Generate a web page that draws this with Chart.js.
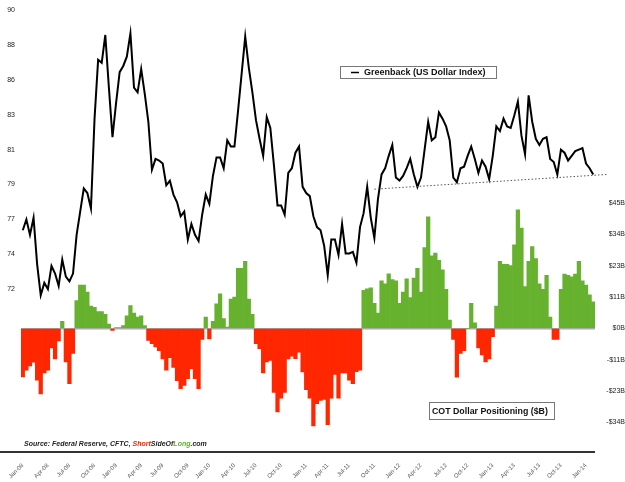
<!DOCTYPE html>
<html>
<head>
<meta charset="utf-8">
<script src="https://cdn.jsdelivr.net/npm/chart.js@4.4.0/dist/chart.umd.min.js"></script>
<style>
  html, body { margin: 0; padding: 0; background: #fff; }
</style>
</head>
<body>
<canvas id="chart" width="625" height="482"></canvas>
<script>
// Greenback (US Dollar Index), sampled every two weeks from early Jan 2008
const dollarIndex = [
  75.8, 76.5, 75.5, 76.6, 73.6, 71.6, 72.4, 72.0, 73.5, 73.0,
  72.2, 73.9, 72.8, 72.5, 73.0, 75.5, 77.0, 78.5, 78.2, 77.2,
  83.0, 86.8, 86.6, 88.4, 85.0, 81.8, 84.0, 86.0, 86.4, 87.0,
  88.5, 85.0, 84.7, 86.2, 84.6, 82.8, 79.7, 80.4, 80.3, 80.1,
  78.7, 79.0, 78.1, 77.6, 76.7, 77.0, 75.2, 76.2, 75.5, 75.1,
  76.8, 78.1, 77.5, 79.3, 80.5, 80.5, 79.8, 81.6, 81.2, 81.2,
  83.5, 85.9, 88.3, 86.3, 84.7, 82.9, 81.7, 80.6, 83.1, 82.4,
  80.0, 77.4, 77.4, 76.8, 79.5, 79.8, 80.8, 81.2, 78.6, 78.2,
  78.0, 76.7, 76.0, 75.8, 74.8, 72.9, 75.2, 75.2, 74.2, 76.2,
  74.3, 74.3, 74.4, 73.7, 76.0, 76.9, 78.6, 76.6, 75.3, 77.8,
  79.4, 79.8, 80.6, 81.3, 79.2, 79.0, 79.3, 79.8, 80.4, 79.4,
  78.6, 79.2, 81.0, 82.8, 81.6, 81.8, 83.4, 83.0, 82.5, 81.6,
  79.2, 78.9, 79.8, 79.9, 80.6, 81.2, 80.4, 79.5, 80.3, 79.9,
  79.1, 80.6, 82.5, 82.2, 83.0, 82.5, 82.4, 83.2, 84.1, 81.9,
  80.7, 84.5, 82.8, 81.7, 81.3, 81.7, 81.8, 80.4, 80.2, 79.4,
  81.0, 80.8, 80.3, 80.6, 80.9, 81.0, 81.1, 80.1, 79.8, 79.4
];

// COT Dollar Positioning ($B), same dates
const cotPositioning = [
  -17.4, -15, -13.5, -12.1, -18.6, -23.5, -16, -15, -7, -11,
  -4.5, 2.5, -12, -19.8, -9, 10, 15.5, 15.5, 13, 8,
  7.5, 6, 6, 5, 1.5, -0.7, 0.3, 0.3, 1, 4.5,
  8.2, 5.5, 4, 4.5, 1, -4.3, -5.5, -6.7, -8, -11,
  -15, -10.5, -14, -18.8, -21.6, -20.5, -18, -14.5, -18, -21.6,
  -4, 4, -3.8, 2.5, 8.8, 12.4, 3.5, 0.5, 10.5, 11.2,
  21.5, 21.5, 24, 10.5, 5, -5.5, -7.3, -16, -12, -11.5,
  -23, -30, -25, -23, -11, -10, -10.9, -8.5, -15.6, -22,
  -25, -35, -27, -25.8, -25.5, -34.5, -25, -16.5, -25, -16,
  -16, -18.6, -19.8, -15.5, -15, 13.6, 14.2, 14.5, 9, 5.5,
  17, 16, 19.6, 17.5, 17, 9, 13, 17.8, 11, 18,
  21.5, 13, 29, 40, 26, 27, 24.4, 21, 14, 3,
  -4, -17.5, -9, -8, 0, 9, 2, -7, -9.5, -12,
  -11, -3, 8, 24, 23, 23, 22.5, 30, 42.5, 36,
  15, 24, 29.3, 25, 16, 14, 19, 4, -4, -4,
  14, 19.5, 19, 18.5, 19.5, 24, 17, 15.5, 12, 9.5
];

// dotted support line under the 2011-2014 lows (index, value)
const trendIndex = [98, 163];
const trendValues = [78.45, 79.4];

const leftTicks = [72, 74.25, 76.5, 78.75, 81, 83.25, 85.5, 87.75, 90];
const leftTickLabels = ['72', '74', '77', '79', '81', '83', '86', '88', '90'];
const rightTicks = [-33.75, -22.5, -11.25, 0, 11.25, 22.5, 33.75, 45];
const rightTickLabels = ['-$34B', '-$23B', '-$11B', '$0B', '$11B', '$23B', '$34B', '$45B'];
const monthNames = ['Jan', 'Feb', 'Mar', 'Apr', 'May', 'Jun', 'Jul', 'Aug', 'Sep', 'Oct', 'Nov', 'Dec'];

const labels = dollarIndex.map((_, i) => {
  const d = new Date(Date.UTC(2008, 0, 4 + i * 14));
  return d.toISOString().slice(0, 10);
});

const GREEN = '#66b22f';
const RED = '#ff2600';

// trendline, boxes and source line drawn on top
const overlayPlugin = {
  id: 'overlay',
  afterDatasetsDraw(chart) {
    const { ctx, chartArea, scales } = chart;
    ctx.save();

    // dotted support line
    ctx.strokeStyle = '#555';
    ctx.lineWidth = 1;
    ctx.setLineDash([1.5, 2]);
    ctx.beginPath();
    ctx.moveTo(scales.x.getPixelForValue(trendIndex[0]), scales.y.getPixelForValue(trendValues[0]));
    ctx.lineTo(scales.x.getPixelForValue(trendIndex[1]), scales.y.getPixelForValue(trendValues[1]));
    ctx.stroke();
    ctx.setLineDash([]);

    // bottom rule
    ctx.strokeStyle = '#333';
    ctx.lineWidth = 2;
    ctx.beginPath();
    ctx.moveTo(0, chartArea.bottom - 1);
    ctx.lineTo(chartArea.right, chartArea.bottom - 1);
    ctx.stroke();

    // legend box: dollar index
    ctx.fillStyle = '#fff';
    ctx.strokeStyle = '#777';
    ctx.lineWidth = 1;
    ctx.fillRect(340.5, 66.5, 156, 12);
    ctx.strokeRect(340.5, 66.5, 156, 12);
    ctx.strokeStyle = '#000';
    ctx.lineWidth = 1.5;
    ctx.beginPath();
    ctx.moveTo(351, 72.5);
    ctx.lineTo(359, 72.5);
    ctx.stroke();
    ctx.fillStyle = '#111';
    ctx.font = 'bold 9px "Liberation Sans"';
    ctx.textBaseline = 'middle';
    ctx.textAlign = 'left';
    ctx.fillText('Greenback (US Dollar Index)', 364, 73);

    // legend box: COT
    ctx.fillStyle = '#fff';
    ctx.strokeStyle = '#777';
    ctx.lineWidth = 1;
    ctx.fillRect(429.5, 402.5, 125, 17);
    ctx.strokeRect(429.5, 402.5, 125, 17);
    ctx.fillStyle = '#111';
    ctx.font = 'bold 8.8px "Liberation Sans"';
    ctx.fillText('COT Dollar Positioning ($B)', 432, 411.5);

    // source line
    const parts = [
      ['Source: Federal Reserve, CFTC, ', '#222'],
      ['Short', '#ff2200'],
      ['SideOf', '#222'],
      ['Long', '#5fb030'],
      ['.com', '#222']
    ];
    ctx.font = 'italic bold 7px "Liberation Sans"';
    let x = 24;
    parts.forEach(([t, c]) => {
      ctx.fillStyle = c;
      ctx.fillText(t, x, 444.5);
      x += ctx.measureText(t).width;
    });

    ctx.restore();
  }
};

const chart = new Chart(document.getElementById('chart').getContext('2d'), {
  data: {
    labels: labels,
    datasets: [
      {
        type: 'line',
        label: 'Greenback (US Dollar Index)',
        data: dollarIndex,
        yAxisID: 'y',
        borderColor: '#000',
        borderWidth: 2,
        pointRadius: 0,
        tension: 0,
        order: 0
      },
      {
        type: 'bar',
        label: 'COT Dollar Positioning ($B)',
        data: cotPositioning,
        yAxisID: 'y1',
        backgroundColor: c => (c.raw >= 0 ? GREEN : RED),
        barPercentage: 1,
        categoryPercentage: 1,
        borderWidth: 0,
        order: 1
      }
    ]
  },
  options: {
    responsive: false,
    animation: false,
    devicePixelRatio: 1,
    layout: { padding: { top: 10, left: 0, right: 0, bottom: 0 } },
    plugins: {
      legend: { display: false },
      tooltip: { enabled: false }
    },
    scales: {
      x: {
        offset: true,
        grid: { display: false },
        border: { display: false },
        ticks: {
          autoSkip: false,
          minRotation: 45,
          maxRotation: 45,
          padding: 1,
          color: '#555',
          font: { family: 'Liberation Sans', size: 6 },
          callback: function(value, index) {
            const d = new Date(labels[index]);
            const m = d.getUTCMonth();
            if (m % 3 !== 0) return null;
            if (index > 0 && new Date(labels[index - 1]).getUTCMonth() === m) return null;
            return monthNames[m] + '-' + String(d.getUTCFullYear()).slice(2);
          }
        },
        afterFit: s => { s.height = 29; }
      },
      y: {
        position: 'left',
        min: 61.42,
        max: 90,
        grid: { display: false, drawTicks: false },
        border: { display: false },
        afterBuildTicks: s => { s.ticks = leftTicks.map(v => ({ value: v })); },
        ticks: {
          padding: 6,
          color: '#222',
          font: { family: 'Liberation Sans', size: 7 },
          callback: (v, i) => leftTickLabels[i]
        },
        afterFit: s => { s.width = 21; }
      },
      y1: {
        position: 'right',
        min: -44.7,
        max: 114.1,
        border: { display: false },
        grid: {
          drawTicks: false,
          lineWidth: 1.5,
          color: c => (c.tick && c.tick.value === 0 ? '#aaa' : 'rgba(0,0,0,0)')
        },
        afterBuildTicks: s => { s.ticks = rightTicks.map(v => ({ value: v })); },
        ticks: {
          padding: -6,
          crossAlign: 'far',
          color: '#222',
          font: { family: 'Liberation Sans', size: 7 },
          callback: (v, i) => rightTickLabels[i]
        },
        afterFit: s => { s.width = 30; }
      }
    }
  },
  plugins: [overlayPlugin]
});
</script>
</body>
</html>
